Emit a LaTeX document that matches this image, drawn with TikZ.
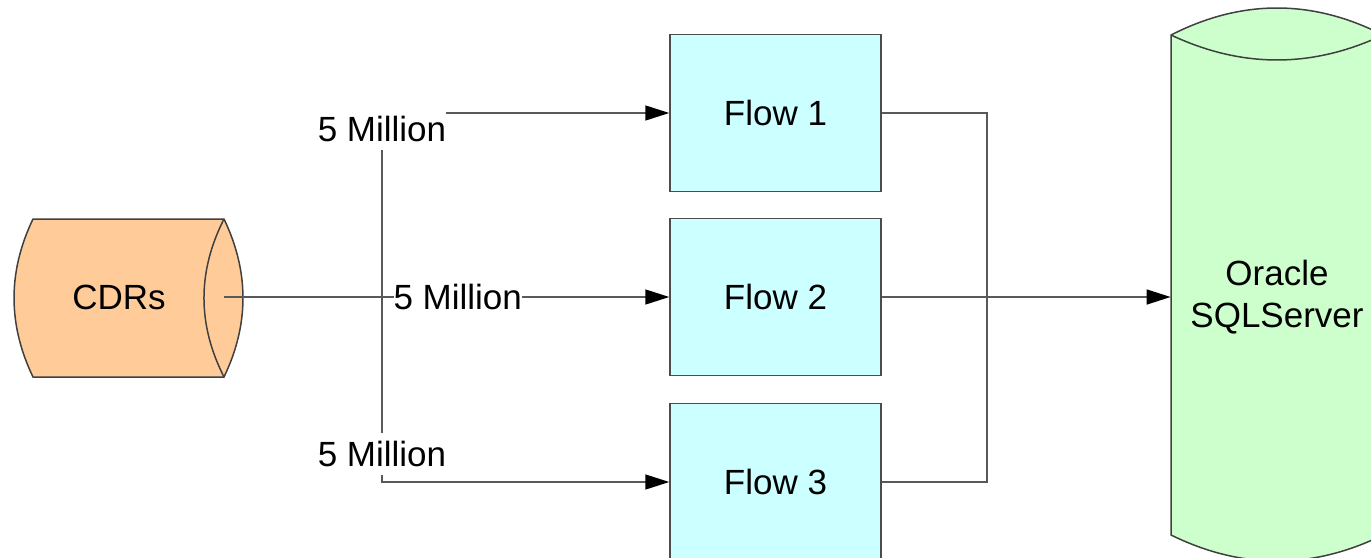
\documentclass[tikz,border=0pt]{standalone}
\usepackage{fontspec}
\setmainfont{Liberation Sans}
\usetikzlibrary{arrows.meta}

\definecolor{cdrfill}{RGB}{255,204,153}
\definecolor{flowfill}{RGB}{204,255,255}
\definecolor{dbfill}{RGB}{204,255,204}

\tikzset{
  txt/.style={font=\fontsize{17.5}{21}\selectfont},
  flowbox/.style={txt, draw=black!70, line width=0.75pt, fill=flowfill, minimum width=105.5pt, minimum height=78.5pt, inner sep=0pt},
  conn/.style={draw=black!65, line width=0.75pt},
  arr/.style={conn, -{Triangle[length=12pt,width=7.5pt,color=black]}},
  lbl/.style={txt, fill=white, inner xsep=0pt, inner ysep=4pt}
}

\begin{document}
\begin{tikzpicture}[x=0.5pt,y=0.5pt,yscale=-1,xscale=1]
\useasboundingbox (0,0) rectangle (1371,557);
\clip (0,0) rectangle (1371,557);

%Shape: CDRs cylinder
\draw [draw=black!75, line width=0.75pt, fill=cdrfill] (33,219) -- (224,219) .. controls (249.3,271.7) and (249.3,324.3) .. (224,377) -- (33,377) .. controls (7.7,324.3) and (7.7,271.7) .. cycle ;
\draw [draw=black!75, line width=0.75pt] (224,219) .. controls (197.3,271.7) and (197.3,324.3) .. (224,377) ;
%Shape: Oracle cylinder
\draw [draw=black!75, line width=0.75pt, fill=dbfill] (1171,35) -- (1171,535) .. controls (1241.7,569.7) and (1312.3,569.7) .. (1383,535) -- (1383,35) .. controls (1312.3,-1) and (1241.7,-1) .. cycle ;
\draw [draw=black!75, line width=0.75pt] (1171,35) .. controls (1241.7,68.3) and (1312.3,68.3) .. (1383,35) ;

% Text Node
\node [txt] (cdrs) at (119,297) {CDRs};
\coordinate (cdrsout) at (224,297);
% Text Node
\node [txt, align=center, minimum width=106pt, inner sep=0pt] (oracle) at (1277,297) {Oracle\\SQLServer};

% Flow boxes
\node [flowbox] (flow1) at (775.5,113) {Flow 1};
\node [flowbox] (flow2) at (775.5,297) {Flow 2};
\node [flowbox] (flow3) at (775.5,482) {Flow 3};

%Connectors in
\coordinate (split) at (382,297);
\draw [arr] (cdrsout) -- node [lbl, pos=0.525] {5 Million} (flow2.west) ;
\draw [arr] (split) |- node [lbl, pos=0.457] {5 Million} (flow1.west) ;
\draw [arr] (split) |- node [lbl, pos=0.425] {5 Million} (flow3.west) ;

%Connectors out
\coordinate (merge) at (987,297);
\draw [conn] (flow1.east) -| (merge) ;
\draw [conn] (flow3.east) -| (merge) ;
\draw [arr] (flow2.east) -- (oracle.west) ;

\end{tikzpicture}
\end{document}
